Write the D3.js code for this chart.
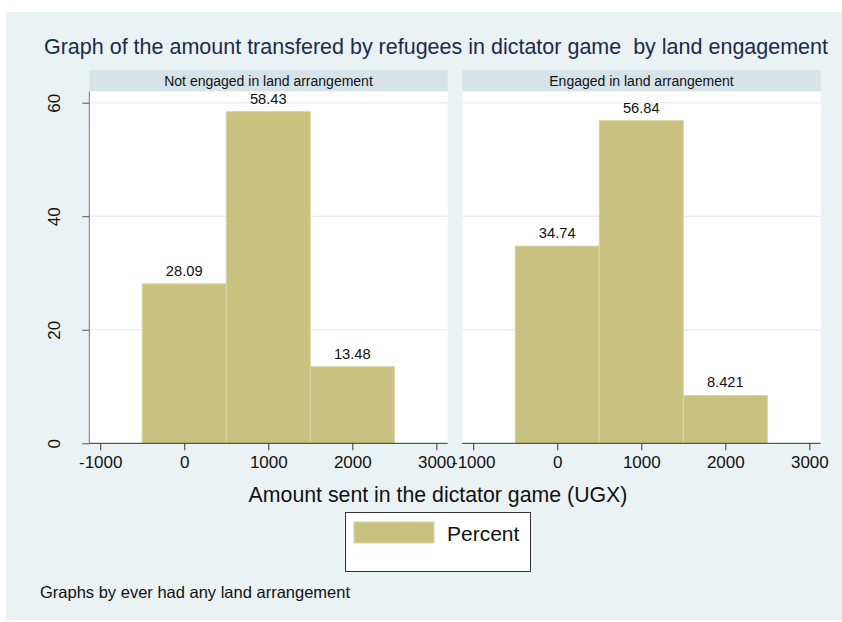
<!DOCTYPE html>
<html>
<head>
<meta charset="utf-8">
<script src="https://cdn.jsdelivr.net/npm/d3@7"></script>
<style>
  body { margin: 0; background: #fff; }
  text { font-family: "Liberation Sans", Arial, sans-serif; white-space: pre; }
</style>
</head>
<body>
<div id="chart"></div>
<script>
// data
var binStarts = [-500, 500, 1500]
var binWidth = 1000
var panelNames = ["Not engaged in land arrangement", "Engaged in land arrangement"]
var notEngaged = [28.09, 58.43, 13.48]
var engaged = [34.74, 56.84, 8.421]
var notEngagedLabels = ["28.09", "58.43", "13.48"]
var engagedLabels = ["34.74", "56.84", "8.421"]
var xTicks = [-1000, 0, 1000, 2000, 3000]
var yTicks = [0, 20, 40, 60]

var figw = 842, figh = 622
var barColor = "#c9c17f"

var svg = d3.select("#chart").append("svg")
    .attr("width", figw).attr("height", figh)

// outer graph region
svg.append("rect").attr("x", 6).attr("y", 12).attr("width", 836).attr("height", 608)
  .attr("fill", "#eaf2f3")

svg.append("text")
  .attr("x", 436).attr("y", 54)
  .attr("text-anchor", "middle")
  .attr("font-size", 21.5)
  .attr("fill", "#1c2b50")
  .text("Graph of the amount transfered by refugees in dictator game  by land engagement")

var y = d3.scaleLinear().domain([0, 62.06]).range([443.3, 91])

var panels = [
  {name: panelNames[0], vals: notEngaged, labs: notEngagedLabels, left: 89.3},
  {name: panelNames[1], vals: engaged, labs: engagedLabels, left: 462.3}
]
var pw = 358.4

panels.forEach(function(p, i) {
  var x = d3.scaleLinear().domain([-1130, 3135]).range([p.left, p.left + pw])
  var g = svg.append("g")

  // header strip
  g.append("rect").attr("x", p.left).attr("y", 70).attr("width", pw).attr("height", 21.5)
    .attr("fill", "#d6e3e9")
  g.append("text").attr("x", p.left + pw / 2).attr("y", 86)
    .attr("text-anchor", "middle").attr("font-size", 14).attr("fill", "#111")
    .text(p.name)

  // plot area
  g.append("rect").attr("x", p.left).attr("y", 91.5).attr("width", pw).attr("height", 443.3 - 91.5)
    .attr("fill", "#fff")

  // gridlines
  g.selectAll(".grid").data(yTicks.slice(1)).enter().append("line")
    .attr("x1", p.left).attr("x2", p.left + pw)
    .attr("y1", function(d) { return y(d) }).attr("y2", function(d) { return y(d) })
    .attr("stroke", "#e8f0f2").attr("stroke-width", 1.5)

  // bars
  g.selectAll(".bar").data(p.vals).enter().append("rect")
    .attr("x", function(d, j) { return x(binStarts[j]) })
    .attr("width", function(d, j) { return x(binStarts[j] + binWidth) - x(binStarts[j]) })
    .attr("y", function(d) { return y(d) })
    .attr("height", function(d) { return y(0) - y(d) })
    .attr("fill", barColor)
    .attr("stroke", "#d9d4a4").attr("stroke-width", 1)

  // bar labels
  g.selectAll(".lab").data(p.vals).enter().append("text")
    .attr("x", function(d, j) { return x(binStarts[j] + binWidth / 2) })
    .attr("y", function(d) { return y(d) - 8 })
    .attr("text-anchor", "middle").attr("font-size", 14.7).attr("fill", "#111")
    .text(function(d, j) { return p.labs[j] })

  // x axis
  var xa = g.append("g").attr("transform", "translate(0,443.3)")
    .call(d3.axisBottom(x).tickValues(xTicks).tickSize(7).tickPadding(6)
      .tickFormat(function(d) { return String(d) }))
  xa.select(".domain").attr("d", "M" + p.left + ",0H" + (p.left + pw)).attr("stroke", "#333")
  xa.selectAll(".tick line").attr("stroke", "#333")
  xa.selectAll("text").attr("font-size", 17).attr("fill", "#111")
    .attr("font-family", "Liberation Sans, Arial, sans-serif")

  // y axis on the first panel only
  if (i == 0) {
    var ya = g.append("g").attr("transform", "translate(" + p.left + ",0)")
      .call(d3.axisLeft(y).tickValues(yTicks).tickSize(7).tickPadding(0))
    ya.select(".domain").attr("d", "M0,91.5V443.3").attr("stroke", "#777")
    ya.selectAll(".tick line").attr("stroke", "#555")
    ya.selectAll("text")
      .attr("font-size", 17).attr("fill", "#111")
      .attr("font-family", "Liberation Sans, Arial, sans-serif")
      .attr("text-anchor", "middle")
      .attr("dy", null)
      .attr("transform", "translate(-35,0) rotate(-90)")
      .attr("x", 0).attr("y", 0)
      .attr("dominant-baseline", "central")
  }
})

svg.append("text")
  .attr("x", 438).attr("y", 502)
  .attr("text-anchor", "middle").attr("font-size", 21.3).attr("fill", "#111")
  .text("Amount sent in the dictator game (UGX)")

// legend
svg.append("rect").attr("x", 345.5).attr("y", 512.5).attr("width", 185).attr("height", 59)
  .attr("fill", "#fff").attr("stroke", "#333")
svg.append("rect").attr("x", 354).attr("y", 522).attr("width", 80).attr("height", 21)
  .attr("fill", barColor).attr("stroke", "#d9d4a4")
svg.append("text").attr("x", 447).attr("y", 540.5)
  .attr("font-size", 21).attr("fill", "#111").text("Percent")

svg.append("text").attr("x", 40).attr("y", 598)
  .attr("font-size", 16.5).attr("fill", "#111")
  .text("Graphs by ever had any land arrangement")
</script>
</body>
</html>
